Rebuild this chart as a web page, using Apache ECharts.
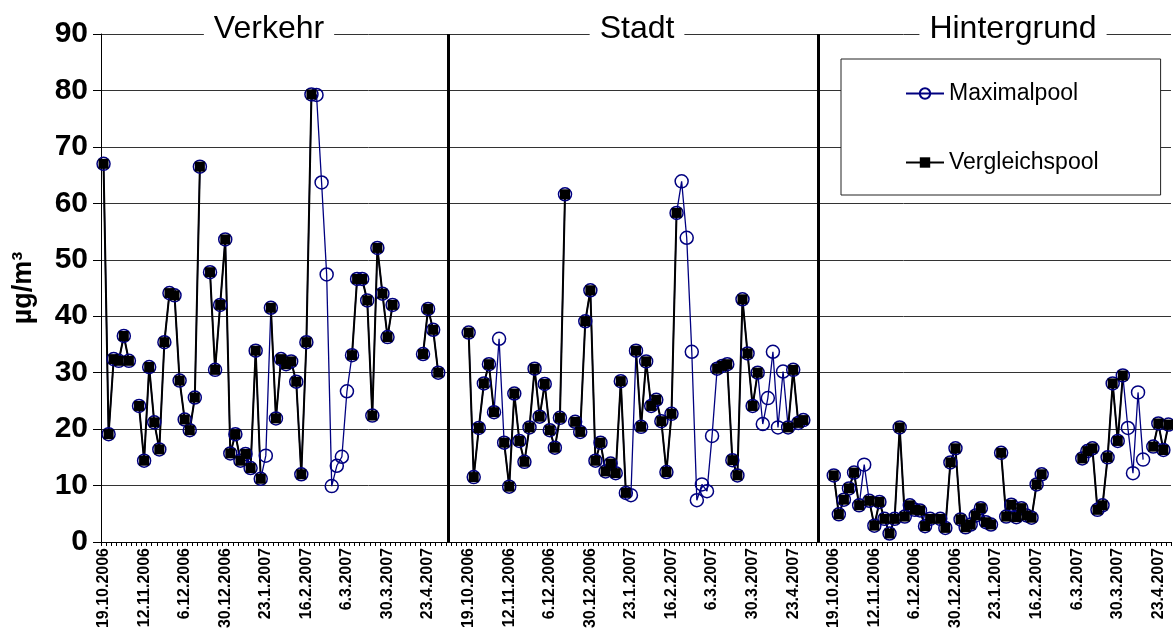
<!DOCTYPE html>
<html>
<head>
<meta charset="utf-8">
<script src="https://cdn.jsdelivr.net/npm/echarts@6/dist/echarts.min.js"></script>
<style>
  html, body { margin: 0; padding: 0; background: #fff; }
  #chart { width: 1173px; height: 632px; }
</style>
</head>
<body>
<div id="chart"></div>
<script>
// Sampling dates shown on the axis (every 8th sampling day of a measuring block)
const tickLabels = ['19.10.2006', '12.11.2006', '6.12.2006', '30.12.2006', '23.1.2007',
                    '16.2.2007', '6.3.2007', '30.3.2007', '23.4.2007'];
const panelNames = ['Verkehr', 'Stadt', 'Hintergrund'];

// Category layout of the shared date axis: three blocks, one per site type
const blockStart = [0, 72, 144];
const blockLength = 72;
const categoryCount = 211;
const dividerCategory = [68, 141];

// Concentrations in µg/m³ per sampling day (null = no value)
const verkehrMax = [67.0, 19.1, 32.4, 32.1, 36.5, 32.1, null, 24.1, 14.4, 31.0,
                    21.2, 16.4, 35.4, 44.1, 43.7, 28.6, 21.7, 19.8, 25.6, 66.5,
                    null, 47.8, 30.5, 42.0, 53.6, 15.7, 19.1, 14.4, 15.6, 13.1,
                    33.9, 11.2, 15.3, 41.5, 21.9, 32.4, 31.5, 32.0, 28.4, 12.0,
                    35.4, 79.3, 79.2, 63.7, 47.4, 9.9, 13.5, 15.1, 26.7, 33.1,
                    46.6, 46.6, 42.8, 22.4, 52.1, 44.0, 36.3, 42.0, null, null,
                    null, null, null, 33.3, 41.3, 37.6, 30.0];
const verkehrVgl = [67.0, 19.1, 32.4, 32.1, 36.5, 32.1, null, 24.1, 14.4, 31.0,
                    21.2, 16.4, 35.4, 44.1, 43.7, 28.6, 21.7, 19.8, 25.6, 66.5,
                    null, 47.8, 30.5, 42.0, 53.6, 15.7, 19.1, 14.4, 15.6, 13.1,
                    33.9, 11.2, null, 41.5, 21.9, 32.4, 31.5, 32.0, 28.4, 12.0,
                    35.4, 79.3, null, null, null, null, null, null, null, 33.1,
                    46.6, 46.6, 42.8, 22.4, 52.1, 44.0, 36.3, 42.0, null, null,
                    null, null, null, 33.3, 41.3, 37.6, 30.0];

const stadtMax = [37.1, 11.5, 20.2, 28.1, 31.5, 23.0, 36.0, 17.6, 9.8, 26.3,
                  17.9, 14.2, 20.3, 30.7, 22.2, 28.0, 19.8, 16.7, 22.0, 61.6,
                  null, 21.3, 19.5, 39.1, 44.6, 14.4, 17.6, 12.5, 13.9, 12.2,
                  28.5, 8.7, 8.3, 33.9, 20.4, 32.0, 24.1, 25.2, 21.4, 12.4,
                  22.7, 58.3, 63.9, 53.9, 33.7, 7.4, 10.2, 9.0, 18.8, 30.7,
                  31.2, 31.5, 14.5, 11.8, 43.0, 33.4, 24.1, 30.0, 20.9, 25.5,
                  33.7, 20.3, 30.2, 20.3, 30.5, 21.1, 21.6];
const stadtVgl = [37.1, 11.5, 20.2, 28.1, 31.5, 23.0, null, 17.6, 9.8, 26.3,
                  17.9, 14.2, 20.3, 30.7, 22.2, 28.0, 19.8, 16.7, 22.0, 61.6,
                  null, 21.3, 19.5, 39.1, 44.6, 14.4, 17.6, 12.5, 13.9, 12.2,
                  28.5, 8.7, null, 33.9, 20.4, 32.0, 24.1, 25.2, 21.4, 12.4,
                  22.7, 58.3, null, null, null, null, null, null, null, 30.7,
                  31.2, 31.5, 14.5, 11.8, 43.0, 33.4, 24.1, 30.0, null, null,
                  null, null, null, 20.3, 30.5, 21.1, 21.6];

const hintergrundMax = [11.8, 4.9, 7.5, 9.5, 12.3, 6.5, 13.7, 7.3, 2.9, 7.1,
                        4.1, 1.5, 4.1, 20.3, 4.5, 6.5, 5.7, 5.6, 2.8, 4.1,
                        null, 4.1, 2.5, 14.1, 16.6, 4.0, 2.6, 3.1, 4.7, 6.0,
                        3.5, 3.1, null, 15.8, 4.5, 6.6, 4.4, 6.0, 4.7, 4.3,
                        10.2, 12.0, null, null, null, null, null, null, null, 14.8,
                        16.1, 16.6, 5.7, 6.5, 15.0, 28.1, 17.9, 29.5, 20.2, 12.2,
                        26.5, 14.6, null, 16.9, 21.0, 16.3, 20.8];
const hintergrundVgl = [11.8, 4.9, 7.5, 9.5, 12.3, 6.5, null, 7.3, 2.9, 7.1,
                        4.1, 1.5, 4.1, 20.3, 4.5, 6.5, 5.7, 5.6, 2.8, 4.1,
                        null, 4.1, 2.5, 14.1, 16.6, 4.0, 2.6, 3.1, 4.7, 6.0,
                        3.5, 3.1, null, 15.8, 4.5, 6.6, 4.4, 6.0, 4.7, 4.3,
                        10.2, 12.0, null, null, null, null, null, null, null, 14.8,
                        16.1, 16.6, 5.7, 6.5, 15.0, 28.1, 17.9, 29.5, null, null,
                        null, null, null, 16.9, 21.0, 16.3, 20.8];

// Place the three site blocks on the common category axis
function spread(blocks) {
  const out = new Array(categoryCount).fill(null);
  blocks.forEach((arr, b) => arr.forEach((v, i) => { out[blockStart[b] + i] = v; }));
  return out;
}

const categories = [];
for (let i = 0; i < categoryCount; i++) {
  const r = i % blockLength;
  categories.push(r % 8 === 0 && r / 8 < tickLabels.length ? tickLabels[r / 8] : '');
}

const FONT = "'Liberation Sans', Arial, Helvetica, sans-serif";
const titleX = [269, 637, 1013];

const chart = echarts.init(document.getElementById('chart'), null, { renderer: 'canvas' });

chart.setOption({
  animation: false,
  backgroundColor: '#fff',
  grid: { left: 101, right: 2, top: 34, bottom: 90 },
  legend: {
    orient: 'vertical',
    left: 841, top: 59,
    padding: [23, 62, 21, 64],
    itemGap: 46,
    itemWidth: 38,
    itemHeight: 13,
    backgroundColor: '#fff',
    borderColor: '#222',
    borderWidth: 1,
    borderRadius: 0,
    selectedMode: false,
    textStyle: { fontFamily: FONT, fontSize: 23, color: '#000' },
    data: ['Maximalpool', 'Vergleichspool']
  },
  xAxis: {
    type: 'category',
    data: categories,
    boundaryGap: true,
    axisLine: { show: true, lineStyle: { color: '#000', width: 1 } },
    axisTick: { show: true, interval: 0, length: 4, lineStyle: { color: '#000' } },
    axisLabel: {
      interval: (idx, val) => val !== '',
      rotate: 90,
      margin: 6,
      fontFamily: FONT,
      fontWeight: 'bold',
      fontSize: 16,
      color: '#000'
    },
    splitLine: { show: false }
  },
  yAxis: {
    type: 'value',
    min: 0, max: 90, interval: 10,
    name: 'µg/m³',
    nameLocation: 'middle',
    nameGap: 64,
    nameTextStyle: { fontFamily: FONT, fontWeight: 'bold', fontSize: 27, color: '#000' },
    axisLine: { show: true, lineStyle: { color: '#000', width: 1 } },
    axisTick: { show: true, length: 8, lineStyle: { color: '#000' } },
    axisLabel: { fontFamily: FONT, fontWeight: 'bold', fontSize: 30, color: '#000', margin: 13 },
    splitLine: { show: true, lineStyle: { color: '#333', width: 1 } }
  },
  series: [
    {
      name: 'Maximalpool',
      type: 'line',
      data: spread([verkehrMax, stadtMax, hintergrundMax]),
      connectNulls: false,
      showAllSymbol: true,
      symbol: 'circle',
      symbolSize: 13,
      lineStyle: { color: '#000080', width: 1.3 },
      itemStyle: { color: 'rgba(255,255,255,0)', borderColor: '#000080', borderWidth: 1.5 },
      emphasis: { disabled: true }
    },
    {
      name: 'Vergleichspool',
      type: 'line',
      data: spread([verkehrVgl, stadtVgl, hintergrundVgl]),
      connectNulls: false,
      showAllSymbol: true,
      symbol: 'rect',
      symbolSize: 10,
      lineStyle: { color: '#000', width: 2 },
      itemStyle: { color: '#000' },
      emphasis: { disabled: true },
      markLine: {
        silent: true,
        animation: false,
        symbol: ['none', 'none'],
        label: { show: false },
        lineStyle: { color: '#000', width: 3, type: 'solid' },
        emphasis: { disabled: true },
        data: dividerCategory.map(c => ({ xAxis: c }))
      }
    }
  ],
  graphic: panelNames.map((name, k) => ({
    type: 'text',
    x: titleX[k],
    y: 29,
    z: 100,
    style: {
      text: name,
      font: '32px ' + FONT,
      fill: '#000',
      align: 'center',
      verticalAlign: 'middle',
      backgroundColor: '#fff',
      padding: [2, 10]
    }
  }))
});
</script>
</body>
</html>
